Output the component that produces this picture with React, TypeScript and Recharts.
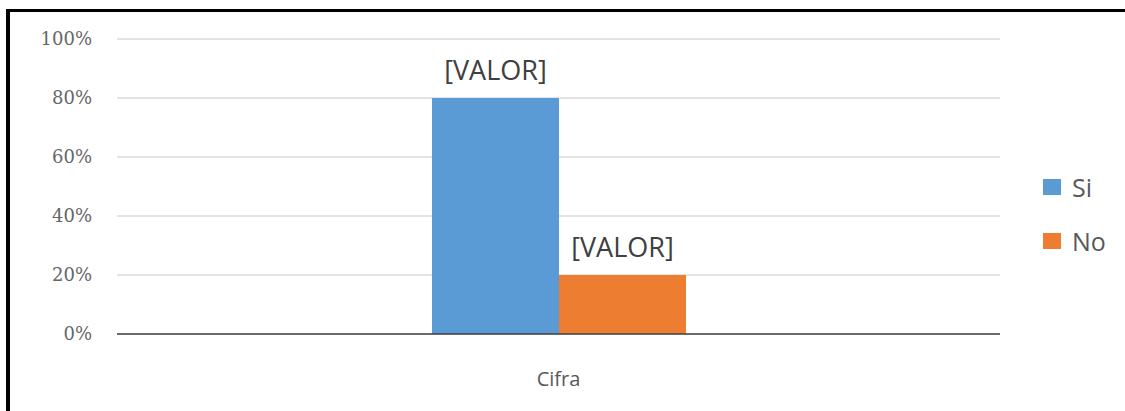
import { BarChart, Bar, XAxis, YAxis, CartesianGrid, LabelList } from "recharts";

// Single category, two series (Si / No), shares as fractions of 1.
const categories = ["Cifra"];
const siValues = [0.8];
const noValues = [0.2];
const yTicks = [0, 0.2, 0.4, 0.6, 0.8, 1];

const SERIES = [
  { key: "si", name: "Si", color: "#5B9BD5" },
  { key: "no", name: "No", color: "#ED7D31" },
];

const data = categories.map((name, i) => ({
  name,
  si: siValues[i],
  no: noValues[i],
}));

const pct = (v: number) => `${Math.round(v * 100)}%`;

export default function App() {
  return (
    <div
      style={{
        position: "fixed",
        left: 0,
        top: 0,
        width: 1125,
        height: 411,
        background: "#fff",
        overflow: "hidden",
      }}
    >
      {/* frame: only the left and top edges show in the crop */}
      <div
        style={{
          position: "absolute",
          left: 6,
          top: 9,
          width: 1300,
          height: 600,
          borderLeft: "4px solid #000",
          borderTop: "3px solid #000",
          boxSizing: "border-box",
        }}
      />
      <div style={{ position: "absolute", left: 0, top: 0 }}>
        <BarChart
          width={1125}
          height={411}
          data={data}
          margin={{ top: 39, right: 125, bottom: 0, left: 0 }}
          barCategoryGap={315}
          barGap={0}
        >
          <CartesianGrid vertical={false} stroke="#c8c8c8" strokeWidth={1} />
          <XAxis
            dataKey="name"
            height={77}
            axisLine={{ stroke: "#404040", strokeWidth: 1.5 }}
            tickLine={false}
            tickSize={0}
            tickMargin={38}
            tick={{ fill: "#595959", fontSize: 20, fontFamily: "Open Sans" }}
          />
          <YAxis
            width={117}
            domain={[0, 1]}
            ticks={yTicks}
            tickFormatter={pct}
            axisLine={false}
            tickLine={false}
            tickSize={0}
            tickMargin={25}
            tick={{ fill: "#666666", fontSize: 18, fontFamily: "DejaVu Serif" }}
          />
          {SERIES.map((s) => (
            <Bar
              key={s.key}
              dataKey={s.key}
              name={s.name}
              fill={s.color}
              isAnimationActive={false}
            >
              <LabelList
                dataKey={s.key}
                position="top"
                offset={18}
                formatter={() => "[VALOR]"}
                fill="#404040"
                fontSize={27}
                fontFamily="Open Sans"
              />
            </Bar>
          ))}
        </BarChart>
      </div>
      {/* legend, right side */}
      <div
        style={{
          position: "absolute",
          left: 1043,
          top: 172,
          fontFamily: "Open Sans",
          fontSize: 25,
          color: "#595959",
        }}
      >
        {SERIES.map((s) => (
          <div
            key={s.key}
            style={{ display: "flex", alignItems: "center", height: 30, marginBottom: 24 }}
          >
            <span
              style={{
                display: "inline-block",
                width: 18,
                height: 16,
                background: s.color,
                marginRight: 11,
              }}
            />
            <span style={{ lineHeight: "30px" }}>{s.name}</span>
          </div>
        ))}
      </div>
    </div>
  );
}
